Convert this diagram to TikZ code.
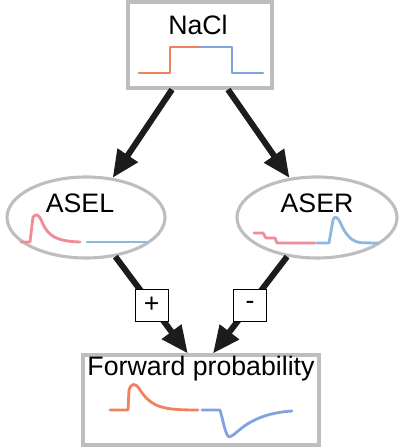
\documentclass[tikz,border=0pt]{standalone}
\usepackage{fontspec}
\setmainfont{Liberation Sans}
\usetikzlibrary{shapes.geometric,arrows.meta}
\definecolor{framegray}{RGB}{190,190,190}
\definecolor{arrowblack}{RGB}{28,28,28}
\definecolor{tracered}{RGB}{240,130,96}
\definecolor{traceblue}{RGB}{130,162,224}
\definecolor{tracepink}{RGB}{240,140,150}
\definecolor{tracesky}{RGB}{140,185,225}
\begin{document}
\begin{tikzpicture}[
    box/.style={rectangle, draw=framegray, line width=2.2pt, inner sep=0pt},
    cell/.style={ellipse, draw=framegray, line width=2.2pt, inner sep=0pt, minimum height=2.025cm},
    title/.style={inner sep=0pt, font=\fontsize{19}{22}\selectfont},
    sign/.style={rectangle, draw=black, line width=0.7pt, fill=white, minimum width=0.825cm, minimum height=0.8cm, inner sep=0pt, font=\fontsize{19}{22}\selectfont},
    arr/.style={draw=arrowblack, line width=0.15cm, -{Triangle[length=0.68cm,width=0.58cm]}},
    trace/.style={line width=2pt, line join=round, line cap=round}
]
\useasboundingbox (0,0) rectangle (10,11.2);

% Boxes and cells
\node[box, minimum width=3.6cm, minimum height=2.15cm] (nacl) at (5.0,10.075) {};
\node[cell, minimum width=3.95cm] (asel) at (2.15,5.7625) {};
\node[cell, minimum width=4.0cm] (aser) at (7.925,5.7625) {};
\node[box, minimum width=5.9cm, minimum height=2.25cm] (fwd) at (5.025,1.2) {};

% Titles
\node[title] (nacltxt) at (4.95,10.575) {NaCl};
\node[title] (aseltxt) at (2.0,6.125) {ASEL};
\node[title] (asertxt) at (7.925,6.125) {ASER};
\node[title] (fwdtxt) at (5.025,1.975) {Forward probability};

% Traces (simplified)
\draw[trace, tracered] (3.475,9.375) -- (4.25,9.375) -- (4.25,10.025) -- (5.0,10.025);
\draw[trace, traceblue] (5.0,10.025) -- (5.8,10.025) -- (5.8,9.375) -- (6.575,9.375);

\draw[trace, tracepink] (0.525,5.15) -- (0.75,5.15) -- (0.825,5.775)
    .. controls (0.9,5.86) and (0.97,5.86) .. (1.05,5.65)
    .. controls (1.2,5.3) and (1.4,5.17) .. (2.0,5.15);
\draw[trace, tracesky] (2.175,5.15) -- (3.675,5.15);

\draw[trace, tracepink] (6.35,5.375) -- (6.575,5.375) -- (6.65,5.25) -- (6.875,5.25)
    -- (6.925,5.125) -- (7.875,5.125);
\draw[trace, tracesky] (7.925,5.125) -- (8.225,5.125) -- (8.325,5.7)
    .. controls (8.36,5.8) and (8.42,5.8) .. (8.5,5.65)
    .. controls (8.65,5.3) and (8.8,5.15) .. (9.05,5.13) -- (9.45,5.125);

\draw[trace, tracered] (2.75,0.95) -- (3.2,0.95) -- (3.225,1.45)
    .. controls (3.28,1.62) and (3.38,1.65) .. (3.5,1.45)
    .. controls (3.8,1.0) and (4.1,0.95) .. (4.95,0.95);
\draw[trace, traceblue] (5.05,0.95) -- (5.5,0.95)
    .. controls (5.6,0.6) and (5.65,0.25) .. (5.75,0.28)
    .. controls (5.95,0.35) and (6.2,0.85) .. (7.3,0.925);

% Arrows
\draw[arr] ([xshift=-0.7cm]nacl.south) -- (asel);
\draw[arr] ([xshift=0.7cm]nacl.south) -- (aser);
\draw[arr] (asel) -- node[sign] (plus) {+} ([xshift=-0.33cm]fwd.north);
\draw[arr] (aser) -- node[sign] (minus) {-} ([xshift=0.3cm]fwd.north);
\end{tikzpicture}
\end{document}
